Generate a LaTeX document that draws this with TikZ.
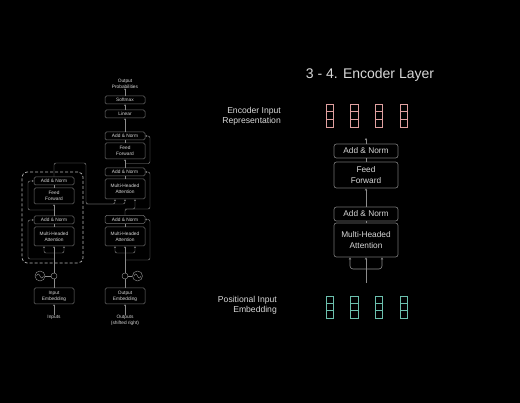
\documentclass[tikz,border=0pt]{standalone}
\usepackage{fontspec}
\setmainfont{Liberation Sans}
\usetikzlibrary{arrows.meta}
\definecolor{bx}{HTML}{707070}
\definecolor{tx}{HTML}{D8D8D8}
\definecolor{ln}{HTML}{8C8C8C}
\definecolor{dsh}{HTML}{B8B8B8}
\definecolor{pk}{HTML}{E0A0A0}
\definecolor{gr}{HTML}{6CC0AE}
\begin{document}
\begin{tikzpicture}[x=1pt,y=-1pt,
  sbox/.style={draw=bx, line width=0.5pt, rounded corners=1.5pt, fill=black, text=tx,
    font=\fontsize{4.8}{5.8}\selectfont, minimum width=40pt, inner sep=0pt, align=center},
  bbox/.style={draw=bx, line width=0.7pt, rounded corners=2.5pt, fill=black, text=tx,
    font=\fontsize{8.3}{10.5}\selectfont, minimum width=64pt, inner sep=0pt, align=center},
  slbl/.style={text=tx, font=\fontsize{4.8}{5.8}\selectfont, align=center, inner sep=0pt},
  blbl/.style={text=tx, font=\fontsize{8.6}{10.2}\selectfont, align=right, inner sep=0pt, anchor=east},
  sl/.style={draw=ln, line width=0.45pt, rounded corners=2pt},
  sa/.style={sl, -{Stealth[length=1.7pt,width=1.7pt]}},
  bl/.style={draw=ln, line width=0.6pt, rounded corners=3pt},
  ba/.style={bl, -{Stealth[length=2.4pt,width=2.4pt]}},
  plusc/.style={circle, draw=ln, line width=0.45pt, minimum size=6pt, inner sep=0pt},
  sinc/.style={circle, draw=ln, line width=0.45pt, minimum size=10pt, inner sep=0pt}
]
\fill[black] (0,0) rectangle (520,403);

% ---------------- left: decoder ----------------
\node[slbl] (prob) at (125,83.5) {Output\\Probabilities};
\node[sbox, minimum height=8pt] (soft) at (125,100) {Softmax};
\node[sbox, minimum height=8pt] (lin) at (125,114) {Linear};
\node[sbox, minimum height=8pt] (dan1) at (125,136) {Add \& Norm};
\node[sbox, minimum height=16pt] (dff) at (125,151) {Feed\\Forward};
\node[sbox, minimum height=8pt] (dan2) at (125,172) {Add \& Norm};
\node[sbox, minimum height=20pt] (dmha) at (125,189) {Multi-Headed\\Attention};
\node[sbox, minimum height=8pt] (dan3) at (125,219.5) {Add \& Norm};
\node[sbox, minimum height=19pt] (dmha2) at (125,236.5) {Multi-Headed\\Attention};
\node[plusc] (dplus) at (125,276) {};
\node[sinc] (dsin) at (137.5,276) {};
\node[sbox, minimum height=16pt] (oemb) at (125,296) {Output\\Embedding};
\node[slbl] (outs) at (125,320.5) {Outputs\\(shifted right)};

% ---------------- left: encoder ----------------
\node[draw=dsh, line width=0.7pt, dash pattern=on 3pt off 2pt, rounded corners=5pt,
  minimum width=61pt, minimum height=91pt, inner sep=0pt] (encbox) at (52.5,217.5) {};
\node[sbox, minimum height=8pt] (ean1) at (54,181) {Add \& Norm};
\node[sbox, minimum height=16pt] (eff) at (54,196) {Feed\\Forward};
\node[sbox, minimum height=8pt] (ean2) at (54,220) {Add \& Norm};
\node[sbox, minimum height=19pt] (emha) at (54,236.5) {Multi-Headed\\Attention};
\node[plusc] (eplus) at (54,276) {};
\node[sinc] (esin) at (40,276) {};
\node[sbox, minimum height=16pt] (iemb) at (54,296) {Input\\Embedding};
\node[slbl] (ins) at (54,317.5) {Inputs};

% sine waves
\draw[ln, line width=0.45pt] ([xshift=-3.5pt]esin.center) sin ++(1.75,-2) cos ++(1.75,2) sin ++(1.75,2) cos ++(1.75,-2);
\draw[ln, line width=0.45pt] ([xshift=-3.5pt]dsin.center) sin ++(1.75,-2) cos ++(1.75,2) sin ++(1.75,2) cos ++(1.75,-2);

% encoder connectors
\draw[sa] (ins.north) -- (iemb.south);
\draw[sl] (iemb.north) -- (eplus.south);
\draw[sl] (esin) -- (eplus);
\coordinate (ebr) at (54,253);
\draw[sl] (eplus.north) -- (ebr);
\draw[sa] (ebr) -| ([xshift=-10pt]emha.south);
\draw[sa] (ebr) -- (emha.south);
\draw[sa] (ebr) -| ([xshift=10pt]emha.south);
\draw[sa] (54,259) -- (28,259) -- (28,220) -- (ean2.west);
\draw[sl] (emha.north) -- (ean2.south);
\draw[sa] (ean2.north) -- (eff.south);
\draw[sa] (54,210) -- (28,210) -- (28,181) -- (ean1.west);
\draw[sl] (eff.north) -- (ean1.south);
\draw[sa] (ean1.north) -- (54,163) -- (86,163) -- (86,204) -| ([xshift=-10pt]dmha.south);
\draw[sa] (86,204) -| (dmha.south);

% decoder connectors
\draw[sa] (outs.north) -- (oemb.south);
\draw[sl] (oemb.north) -- (dplus.south);
\draw[sl] (dsin) -- (dplus);
\coordinate (dbr) at (125,253);
\draw[sl] (dplus.north) -- (dbr);
\draw[sa] (dbr) -| ([xshift=-10pt]dmha2.south);
\draw[sa] (dbr) -- (dmha2.south);
\draw[sa] (dbr) -| ([xshift=10pt]dmha2.south);
\draw[sa] (125,260) -- (150,260) -- (150,219.5) -- (dan3.east);
\draw[sl] (dmha2.north) -- (dan3.south);
\draw[sa] (dan3.north) -- (125,209) -| ([xshift=10pt]dmha.south);
\draw[sa] (125,209) -- (150,209) -- (150,172) -- (dan2.east);
\draw[sl] (dmha.north) -- (dan2.south);
\draw[sa] (dan2.north) -- (dff.south);
\draw[sa] (125,163.5) -- (150,163.5) -- (150,136) -- (dan1.east);
\draw[sl] (dff.north) -- (dan1.south);
\draw[sa] (dan1.north) -- (lin.south);
\draw[sa] (lin.north) -- (soft.south);
\draw[sa] (soft.north) -- (prob.south);

% ---------------- right: encoder layer ----------------
\node[text=tx, font=\fontsize{14}{16}\selectfont, inner sep=0pt] (title) at (370,75) {3 - 4. Encoder Layer};
\node[blbl] (eirep) at (281,116) {Encoder Input\\Representation};
\node[blbl] (pie) at (277,305) {Positional Input\\Embedding};

\node[bbox, minimum height=14pt] (ran1) at (366,151) {Add \& Norm};
\node[bbox, minimum height=26pt] (rff) at (366,175) {Feed\\Forward};
\node[bbox, minimum height=14pt] (ran2) at (366,214) {Add \& Norm};
\node[bbox, minimum height=34pt] (rmha) at (366,240) {Multi-Headed\\Attention};

\foreach \x in {330,354.5,379,404}{
  \draw[pk, line width=0.8pt] (\x-3.8,104) rectangle (\x+3.8,127);
  \draw[pk, line width=0.8pt] (\x-3.8,111.67) -- (\x+3.8,111.67);
  \draw[pk, line width=0.8pt] (\x-3.8,119.33) -- (\x+3.8,119.33);
  \draw[gr, line width=0.8pt] (\x-3.8,296) rectangle (\x+3.8,318);
  \draw[gr, line width=0.8pt] (\x-3.8,303.33) -- (\x+3.8,303.33);
  \draw[gr, line width=0.8pt] (\x-3.8,310.67) -- (\x+3.8,310.67);
}

\coordinate (rtop) at (366,138);
\coordinate (rbot) at (366,283);
\coordinate (rbr) at (366,269);
\draw[ba] (ran1.north) -- (rtop);
\draw[bl] (rff.north) -- (ran1.south);
\draw[ba] (ran2.north) -- (rff.south);
\draw[bl] (rmha.north) -- (ran2.south);
\draw[bl] (rbot) -- (rbr);
\draw[ba] (rbr) -| ([xshift=-16pt]rmha.south);
\draw[ba] (rbr) -- (rmha.south);
\draw[ba] (rbr) -| ([xshift=16pt]rmha.south);
\end{tikzpicture}
\end{document}
